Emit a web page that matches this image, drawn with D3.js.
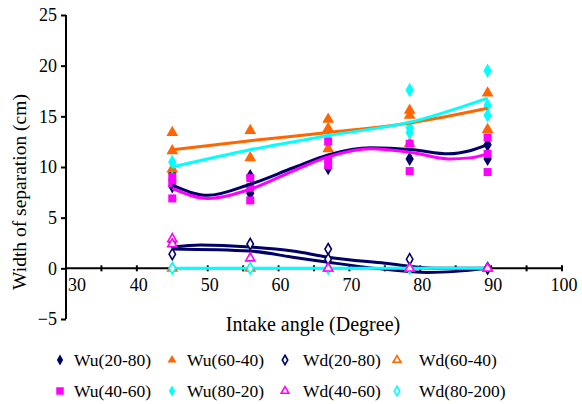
<!DOCTYPE html>
<html>
<head>
<meta charset="utf-8">
<script src="https://cdn.jsdelivr.net/npm/d3@7"></script>
<style>
  body { margin: 0; background: #fff; }
</style>
</head>
<body>
<div id="chart"></div>
<script>
// angles where measurements were taken
var angles = [45, 56, 67, 78.5, 89.5];

// replicate readings at each angle (cm)
var wu2080 = [[9.4, 8.1], [9.1, 7.4], [9.9], [10.8], [10.8, 12.2]];
var wu6040 = [[13.4, 11.6, 9.8], [13.6, 10.9], [14.7, 13.8, 11.8], [15.6, 15.1, 12.3], [17.3, 13.7]];
var wu4060 = [[9.0, 8.4, 6.9], [8.9, 8.0, 6.7], [12.5, 10.8, 10.2], [12.3, 9.6], [12.9, 11.3, 9.5]];
var wu8020 = [[10.5, 8.9], [], [12.8], [17.6, 13.9, 13.4], [19.5, 16.1, 15.1]];
var wd2080 = [[2.6, 1.4], [2.4], [1.9, 0.9], [0.9], [0]];
var wd6040 = [[0], [0], [0], [0], [0]];
var wd4060 = [[2.9, 2.4], [1.0], [0], [0], [0]];
var wd80200 = [[0], [0], [0], [0], [0]];

// trend lines: [angle, value]
var trendWu2080 = [[45, 8.2], [50, 7.2], [56, 8.3], [62, 9.9], [67, 11.2], [73, 11.9], [79, 11.7], [84, 11.3], [87, 11.6], [89.5, 12.2]];
var trendWu4060 = [[45, 7.9], [50, 6.9], [56, 7.8], [62, 9.6], [67, 11.0], [73, 11.8], [79, 11.4], [84, 10.8], [87, 10.9], [89.5, 11.3]];
var trendWu6040 = [[45, 11.7], [56, 12.6], [67, 13.4], [79, 14.4], [89.5, 15.8]];
var trendWu8020 = [[45, 10.0], [56, 11.7], [67, 13.1], [79, 14.5], [89.5, 16.8]];
var trendWd2080 = [[45, 2.1], [49, 2.3], [56, 2.1], [62, 1.7], [67, 1.1], [75, 0.5], [82, 0.0], [89.5, 0.0]];
var trendWd4060 = [[45, 1.9], [56, 1.7], [62, 1.1], [67, 0.6], [75, -0.1], [81, -0.4], [85, -0.3], [89.5, 0.0]];
var trendZero = [[45, 0], [89.5, 0]];

var xTicks = [30, 40, 50, 60, 70, 80, 90, 100];
var xMinorTicks = [30, 35, 40, 45, 50, 55, 60, 65, 70, 75, 80, 85, 90, 95, 100];
var yTicks = [-5, 0, 5, 10, 15, 20, 25];

var legendNames = ["Wu(20-80)", "Wu(60-40)", "Wd(20-80)", "Wd(60-40)",
                   "Wu(40-60)", "Wu(80-20)", "Wd(40-60)", "Wd(80-200)"];

var navy = "#000066", orange = "#ff6600", magenta = "#ff00ff", cyan = "#00ffff";
var serif = "Liberation Serif";

var svg = d3.select("#chart").append("svg")
  .attr("width", 582)
  .attr("height", 404)
  .attr("font-family", serif);

var x = d3.scaleLinear().domain([30, 100]).range([66, 562]);
var y = d3.scaleLinear().domain([-5, 25]).range([319, 15]);

// y axis
var yAxis = svg.append("g")
  .attr("transform", "translate(66,0)")
  .call(d3.axisLeft(y).tickValues(yTicks).tickSize(5).tickPadding(4));
yAxis.attr("font-family", serif).attr("font-size", 18);
yAxis.select(".domain").attr("stroke", "#000").attr("stroke-width", 2).attr("d", "M0,15V319");
yAxis.selectAll("line").attr("stroke-width", 2);
yAxis.selectAll("text").attr("font-family", serif).attr("font-size", 18);

// x axis at zero
var xAxis = svg.append("g")
  .attr("transform", "translate(0," + y(0) + ")");
xAxis.append("line")
  .attr("x1", x(30)).attr("x2", x(100))
  .attr("stroke", "#000").attr("stroke-width", 2);
xAxis.selectAll(".tk")
  .data(xMinorTicks)
  .enter().append("line")
  .attr("x1", d => x(d)).attr("x2", d => x(d))
  .attr("y1", -3).attr("y2", 3)
  .attr("stroke", "#000").attr("stroke-width", 2);
xAxis.selectAll(".lbl")
  .data(xTicks)
  .enter().append("text")
  .attr("x", d => d == 30 ? x(d) + 11 : x(d) + 2)
  .attr("y", 23)
  .attr("text-anchor", "middle")
  .attr("font-family", serif)
  .attr("font-size", 18)
  .text(d => d);

// axis titles
svg.append("text")
  .attr("transform", "translate(26," + 192 + ") rotate(-90)")
  .attr("text-anchor", "middle")
  .attr("font-family", serif)
  .attr("font-size", 19.5)
  .text("Width of separation (cm)");

svg.append("text")
  .attr("x", 313)
  .attr("y", 331)
  .attr("text-anchor", "middle")
  .attr("font-family", serif)
  .attr("font-size", 20)
  .text("Intake angle (Degree)");

// marker shapes
function markerPath(kind, size) {
  var sym = kind == "triangle" ? d3.symbolTriangle : kind == "square" ? d3.symbolSquare : d3.symbolDiamond;
  return d3.symbol().type(sym).size(size)();
}

var series = [
  { data: wd6040, color: orange, kind: "triangle", filled: false },
  { data: wd80200, color: cyan, kind: "diamond", filled: false },
  { data: wd2080, color: navy, kind: "diamond", filled: false },
  { data: wd4060, color: magenta, kind: "triangle", filled: false },
  { data: wu2080, color: navy, kind: "diamond", filled: true },
  { data: wu6040, color: orange, kind: "triangle", filled: true },
  { data: wu8020, color: cyan, kind: "diamond", filled: true },
  { data: wu4060, color: magenta, kind: "square", filled: true }
];

var line = d3.line()
  .x(d => x(d[0]))
  .y(d => y(d[1]))
  .curve(d3.curveMonotoneX);

var trends = [
  { data: trendWd2080, color: navy },
  { data: trendWd4060, color: navy },
  { data: trendZero, color: cyan }
];

trends.forEach(function(t) {
  svg.append("path")
    .attr("d", line(t.data))
    .attr("fill", "none")
    .attr("stroke", t.color)
    .attr("stroke-width", 3);
});

// points
series.forEach(function(s) {
  var pts = [];
  s.data.forEach(function(vals, i) {
    vals.forEach(function(v) { pts.push([angles[i], v]); });
  });
  svg.append("g").selectAll("path")
    .data(pts)
    .enter().append("path")
    .attr("transform", d => "translate(" + x(d[0]) + "," + y(d[1]) + ")")
    .attr("d", s.filled ? markerPath(s.kind, s.kind == "square" ? 64 : 60) : markerPath(s.kind, 36))
    .attr("fill", s.filled ? s.color : "#fff")
    .attr("stroke", s.color)
    .attr("stroke-width", s.filled ? 0 : 1.6);
});

// upper trend lines drawn over the points
[
  { data: trendWu6040, color: orange },
  { data: trendWu8020, color: cyan },
  { data: trendWu2080, color: navy },
  { data: trendWu4060, color: magenta }
].forEach(function(t) {
  svg.append("path")
    .attr("d", line(t.data))
    .attr("fill", "none")
    .attr("stroke", t.color)
    .attr("stroke-width", 3);
});

// legend
var legendStyle = [
  { color: navy, kind: "diamond", filled: true },
  { color: orange, kind: "triangle", filled: true },
  { color: navy, kind: "diamond", filled: false },
  { color: orange, kind: "triangle", filled: false },
  { color: magenta, kind: "square", filled: true },
  { color: cyan, kind: "diamond", filled: true },
  { color: magenta, kind: "triangle", filled: false },
  { color: cyan, kind: "diamond", filled: false }
];
var legendMarkX = [60, 172, 285, 397];
var legendTextX = [74, 187, 303, 419];
var legendY = [360, 391];

var legend = svg.append("g").selectAll("g")
  .data(legendNames)
  .enter().append("g");

legend.append("path")
  .attr("transform", (d, i) => "translate(" + legendMarkX[i % 4] + "," + legendY[Math.floor(i / 4)] + ")")
  .attr("d", (d, i) => legendStyle[i].filled ? markerPath(legendStyle[i].kind, legendStyle[i].kind == "square" ? 56 : 34) : markerPath(legendStyle[i].kind, 26))
  .attr("fill", (d, i) => legendStyle[i].filled ? legendStyle[i].color : "#fff")
  .attr("stroke", (d, i) => legendStyle[i].color)
  .attr("stroke-width", (d, i) => legendStyle[i].filled ? 0 : 1.6);

legend.append("text")
  .attr("x", (d, i) => legendTextX[i % 4])
  .attr("y", (d, i) => legendY[Math.floor(i / 4)] + 6)
  .attr("font-family", serif)
  .attr("font-size", 17.5)
  .text(d => d);
</script>
</body>
</html>
